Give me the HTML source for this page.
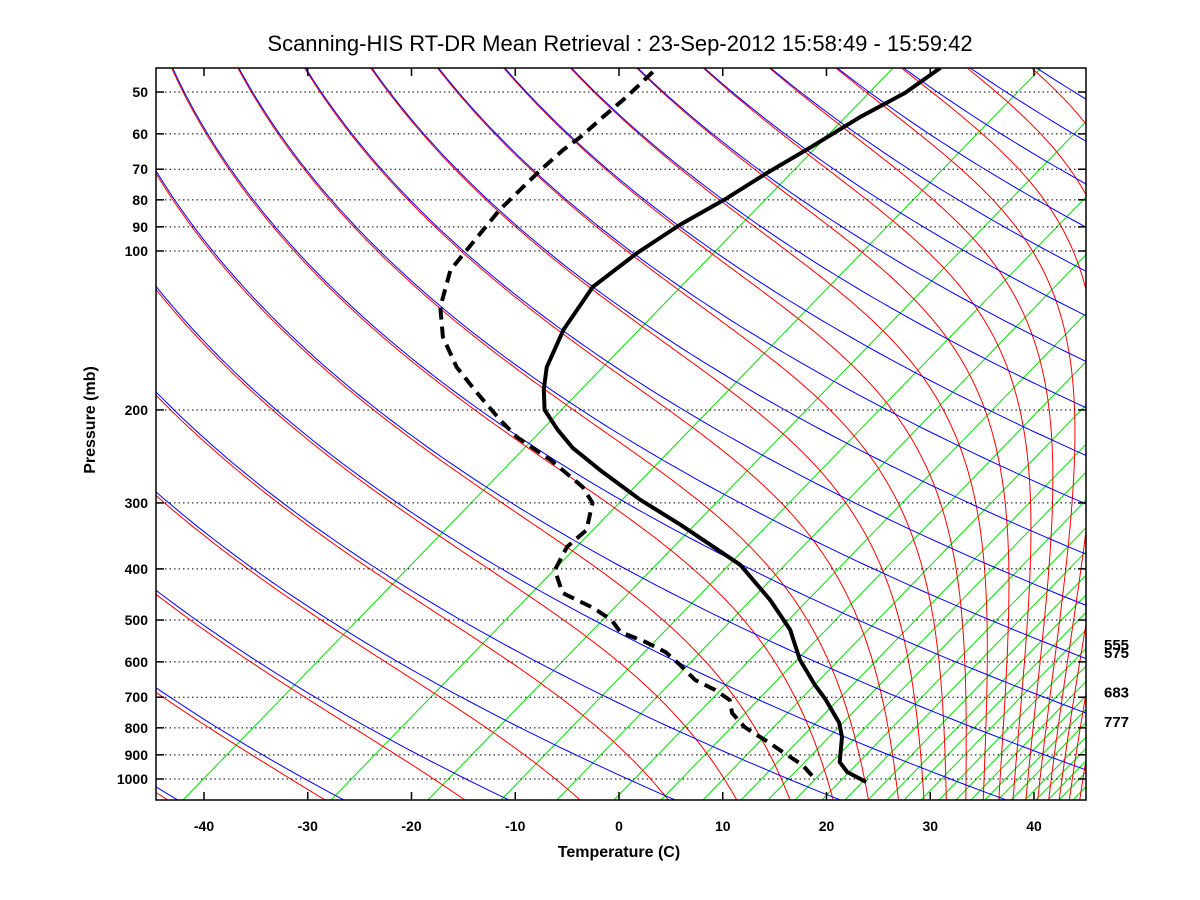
<!DOCTYPE html>
<html><head><meta charset="utf-8"><style>
html,body{margin:0;padding:0;background:#fff;}
svg{display:block;font-family:"Liberation Sans",Arial,sans-serif;}
</style></head><body>
<svg id="chart" width="1200" height="900" viewBox="0 0 1200 900" xmlns="http://www.w3.org/2000/svg">
<defs><clipPath id="pc"><rect x="156" y="68" width="930" height="732"/></clipPath></defs>
<rect x="0" y="0" width="1200" height="900" fill="#fff"/>
<text x="620" y="51" font-size="22" text-anchor="middle">Scanning-HIS RT-DR Mean Retrieval : 23-Sep-2012 15:58:49 - 15:59:42</text>
<g id="bg" clip-path="url(#pc)"></g>
<g id="grid"></g>
<g id="data" clip-path="url(#pc)"></g>
<rect x="156" y="68" width="930" height="732" fill="none" stroke="#000" stroke-width="1.5"/>
<g id="axes"></g>
<text x="619" y="857" font-size="16" font-weight="bold" text-anchor="middle">Temperature (C)</text>
<text x="0" y="0" font-size="16" font-weight="bold" text-anchor="middle" transform="translate(95,420) rotate(-90)">Pressure (mb)</text>
</svg>
<script>
// ---- data ----
const pressureTicks = [50,60,70,80,90,100,200,300,400,500,600,700,800,900,1000];
const tempTicks = [-40,-30,-20,-10,0,10,20,30,40];
const tempP = [45,50.2,55.7,63.8,71.2,79.4,89.3,100.9,117,141,166,183,200,218,236,260,296,330,393,458,522,595,664,709,783,833,929,970,1013];
const tempC = [-60.6,-60.8,-62.0,-62.9,-63.8,-64.4,-65.5,-66.0,-65.9,-63.2,-60.0,-57.4,-54.7,-50.9,-47.1,-41.6,-33.9,-26.8,-15.9,-8.5,-2.7,2.1,6.8,9.8,14.0,16.1,19.1,21.1,24.2];
const dewP = [45.8,51.1,55.7,60.8,64.4,70.2,83.6,99.6,108.6,127.7,145.5,165.9,185.7,208.9,225,248.7,279.9,300.1,337.6,363.5,401.9,444.4,474.3,499.8,526.7,550.1,574.6,608.1,649.4,678.3,708.6,749.9,797,851,889,941,1004];
const dewC = [-87.8,-87.1,-86.8,-86.4,-86.4,-86.0,-84.8,-82.8,-81.8,-78.0,-73.9,-68.7,-63.4,-57.7,-53.9,-47.7,-41.1,-38.1,-35.2,-34.9,-33.1,-29.4,-24.5,-21.2,-18.8,-15.1,-11.9,-8.8,-5.4,-2.2,0.5,2.4,5.4,9.6,12.3,15.9,19.1];
const levelLabels = [555,575,683,777];
const dryTheta = [211.7,227.2,242.8,258.3,273.9,289.4,305,320.5,336.1,351.6,367.2,382.7,398.3,413.8,429.4,444.9,460.5,476,491.6,507.1,522.7,538.2,553.8,569.3];
const moistThetaTop = [211.7,227.2,242.8,258.3,273.9,289.4,305,320.5,336.1,351.6,367.2,382.7,398.3,413.8,429.4,444.9,460.5,476,491.6,507.1,522.7,538.2,553.8,569.3,584.9,600.4,616,631.5,647.1,662.6,678.2,693.7,709.3,724.8];
const mixIntercepts = [183,331,428,501,557,614,661,703,741,768,795,822,845,868,887,904,921,939,956,971,985,998,1011,1025,1036,1048,1059,1073,1085,1098,1112,1128,1146,1166,1190,1218,1250,1287,1330,1380,1435,1500,1581,1658,1746];

// ---- scales ----
const X0=619, PX=10.375, SKEW=68, Y1000=779, DEC=528, PLEFT=156, PRIGHT=1086, PTOP=68, PBOT=800;
const NS='http://www.w3.org/2000/svg';
function yP(p){return Y1000-DEC*Math.log10(1000/p);}
function xS(ts){return X0+ts*PX;}
function xTP(t,p){return xS(t+SKEW*Math.log10(1000/p));}
function mk(tag,attrs,parent){const e=document.createElementNS(NS,tag);for(const k in attrs)e.setAttribute(k,attrs[k]);parent.appendChild(e);return e;}
function pathD(pts){return pts.map((q,i)=>(i?'L':'M')+q[0].toFixed(1)+' '+q[1].toFixed(1)).join(' ');}
const bg=document.getElementById('bg'), grid=document.getElementById('grid'), axes=document.getElementById('axes'), dataG=document.getElementById('data');
const pLevels=[]; for(let lp=Math.log(1110);lp>=Math.log(43);lp-=0.02)pLevels.push(Math.exp(lp));

// mixing ratio (green) lines
mixIntercepts.forEach(x0=>{
  const l=mk('line',{x1:x0,y1:PBOT,x2:x0+0.97*(PBOT-PTOP),y2:PTOP,stroke:'#00e000','stroke-width':1},bg);
  
  
});
// moist adiabats (red), seeded at the top of the diagram
function es(T){return 6.112*Math.exp(17.67*(T-273.15)/(T-29.65));}
function lapse(T,p){let e=Math.min(es(T),p*0.6);const rs=0.622*e/(p-e);return (287*T+2.5e6*rs)/(1005+2.5e6*2.5e6*rs*0.622/(287*T*T));}
function moistFromTop(th){
  const pts=[];let p0=43,T=th*Math.pow(p0/1000,0.286),lp=Math.log(p0);
  while(lp<Math.log(1110)){const p=Math.exp(lp);pts.push([xTP(T-273.15,p),yP(p)]);const h=0.01;T+=lapse(T,p)*h;lp+=h;}
  return pts;
}
moistThetaTop.forEach(th=>{
  const e=mk('path',{d:pathD(moistFromTop(th)),fill:'none',stroke:'#ff0000','stroke-width':1},bg);
  
  
});
// dry adiabats (blue)
dryTheta.forEach(th=>{
  const pts=pLevels.map(p=>[xTP(th*Math.pow(p/1000,0.286)-273.15,p)+1,yP(p)]);
  const e=mk('path',{d:pathD(pts),fill:'none',stroke:'#0000ff','stroke-width':1},bg);
  
  
});
// pressure gridlines, ticks and labels
pressureTicks.forEach(p=>{
  const y=yP(p);
  const g=mk('line',{x1:PLEFT,y1:y,x2:PRIGHT,y2:y,stroke:'#000','stroke-width':1,'stroke-dasharray':'1.5,3'},grid);
  
  
  mk('line',{x1:PLEFT,y1:y,x2:PLEFT+8,y2:y,stroke:'#000','stroke-width':1.5},axes);
  mk('line',{x1:PRIGHT-8,y1:y,x2:PRIGHT,y2:y,stroke:'#000','stroke-width':1.5},axes);
  const t=mk('text',{x:148,y:y+5,'font-size':14,'font-weight':'bold','text-anchor':'end'},axes);
  t.textContent=p;
  
  
});
tempTicks.forEach(v=>{
  const x=xS(v);
  mk('line',{x1:x,y1:PBOT,x2:x,y2:PBOT-8,stroke:'#000','stroke-width':1.5},axes);
  mk('line',{x1:x,y1:PTOP,x2:x,y2:PTOP+8,stroke:'#000','stroke-width':1.5},axes);
  const t=mk('text',{x:x,y:831,'font-size':14,'font-weight':'bold','text-anchor':'middle'},axes);
  t.textContent=v;
  
  
});
levelLabels.forEach(p=>{
  const t=mk('text',{x:1104,y:yP(p)+6,'font-size':15,'font-weight':'bold'},axes);
  t.textContent=p;
  
  
});
// profiles
const tp=mk('path',{d:pathD(tempP.map((p,i)=>[xTP(tempC[i],p),yP(p)])),fill:'none',stroke:'#000','stroke-width':4,'stroke-linejoin':'round'},dataG);


const dp=mk('path',{d:pathD(dewP.map((p,i)=>[xTP(dewC[i],p),yP(p)])),fill:'none',stroke:'#000','stroke-width':4,'stroke-dasharray':'12,7'},dataG);


</script>
</body></html>
